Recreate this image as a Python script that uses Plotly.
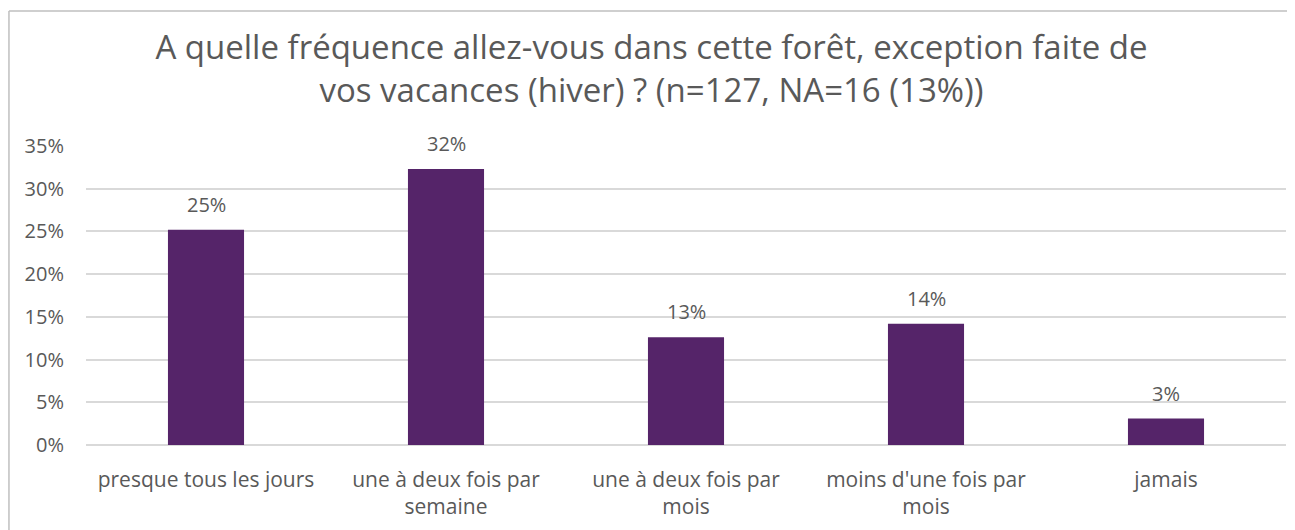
import plotly.graph_objects as go

categories = [
    "presque tous les jours",
    "une à deux fois par<br>semaine",
    "une à deux fois par<br>mois",
    "moins d'une fois par<br>mois",
    "jamais",
]
values = [0.252, 0.323, 0.126, 0.142, 0.031]
y_ticks = [0, 0.05, 0.10, 0.15, 0.20, 0.25, 0.30, 0.35]
title_text = ("A quelle fréquence allez-vous dans cette forêt, exception faite de<br>"
              "vos vacances (hiver) ? (n=127, NA=16 (13%))")

FONT = "Open Sans"
GREY = "#595959"
BAR = "#552469"

fig = go.Figure()
fig.add_trace(go.Bar(
    x=categories, y=values,
    marker=dict(color=BAR, line=dict(width=0)),
    width=0.317,
    hoverinfo="skip",
))

for c, v in zip(categories, values):
    fig.add_annotation(x=c, y=v, text=f"{round(v*100):.0f}%", showarrow=False,
                       yanchor="bottom", yshift=10,
                       font=dict(family=FONT, size=20, color=GREY))

# the page body adds an 8px margin, so the figure is sized to fill the rest
fig.update_layout(
    width=1287, height=522,
    margin=dict(l=78, r=9, t=138, b=85, autoexpand=False),
    paper_bgcolor="white", plot_bgcolor="white",
    showlegend=False,
    title=dict(text=title_text, x=0.5, xanchor="center", xref="container",
               y=0.903, yanchor="middle", yref="container",
               font=dict(family=FONT, size=33, color=GREY)),
    font=dict(family=FONT, size=20, color=GREY),
)
fig.update_xaxes(showgrid=False, showline=False, zeroline=False, ticks="",
                 tickfont=dict(family=FONT, size=21, color=GREY),
                 ticklabelstandoff=20)
fig.update_yaxes(range=[0, 0.35], tickvals=y_ticks, tickformat=".0%",
                 showgrid=True, gridcolor="#d9d9d9", gridwidth=1.5,
                 zeroline=True, zerolinecolor="#d9d9d9", zerolinewidth=1.5,
                 showline=False, ticks="",
                 tickfont=dict(family=FONT, size=20, color=GREY),
                 ticklabelstandoff=21)

# chart frame (left and top edges)
frame = dict(color="#bfbfbf", width=1.5)
fig.add_shape(type="line", xref="paper", yref="paper",
              x0=-0.0642, x1=-0.0642, y0=-0.5, y1=1.4515, line=frame, layer="below")
fig.add_shape(type="line", xref="paper", yref="paper",
              x0=-0.0642, x1=1.01, y0=1.4515, y1=1.4515, line=frame, layer="below")

fig.write_html("out.html", config={"displayModeBar": False})
